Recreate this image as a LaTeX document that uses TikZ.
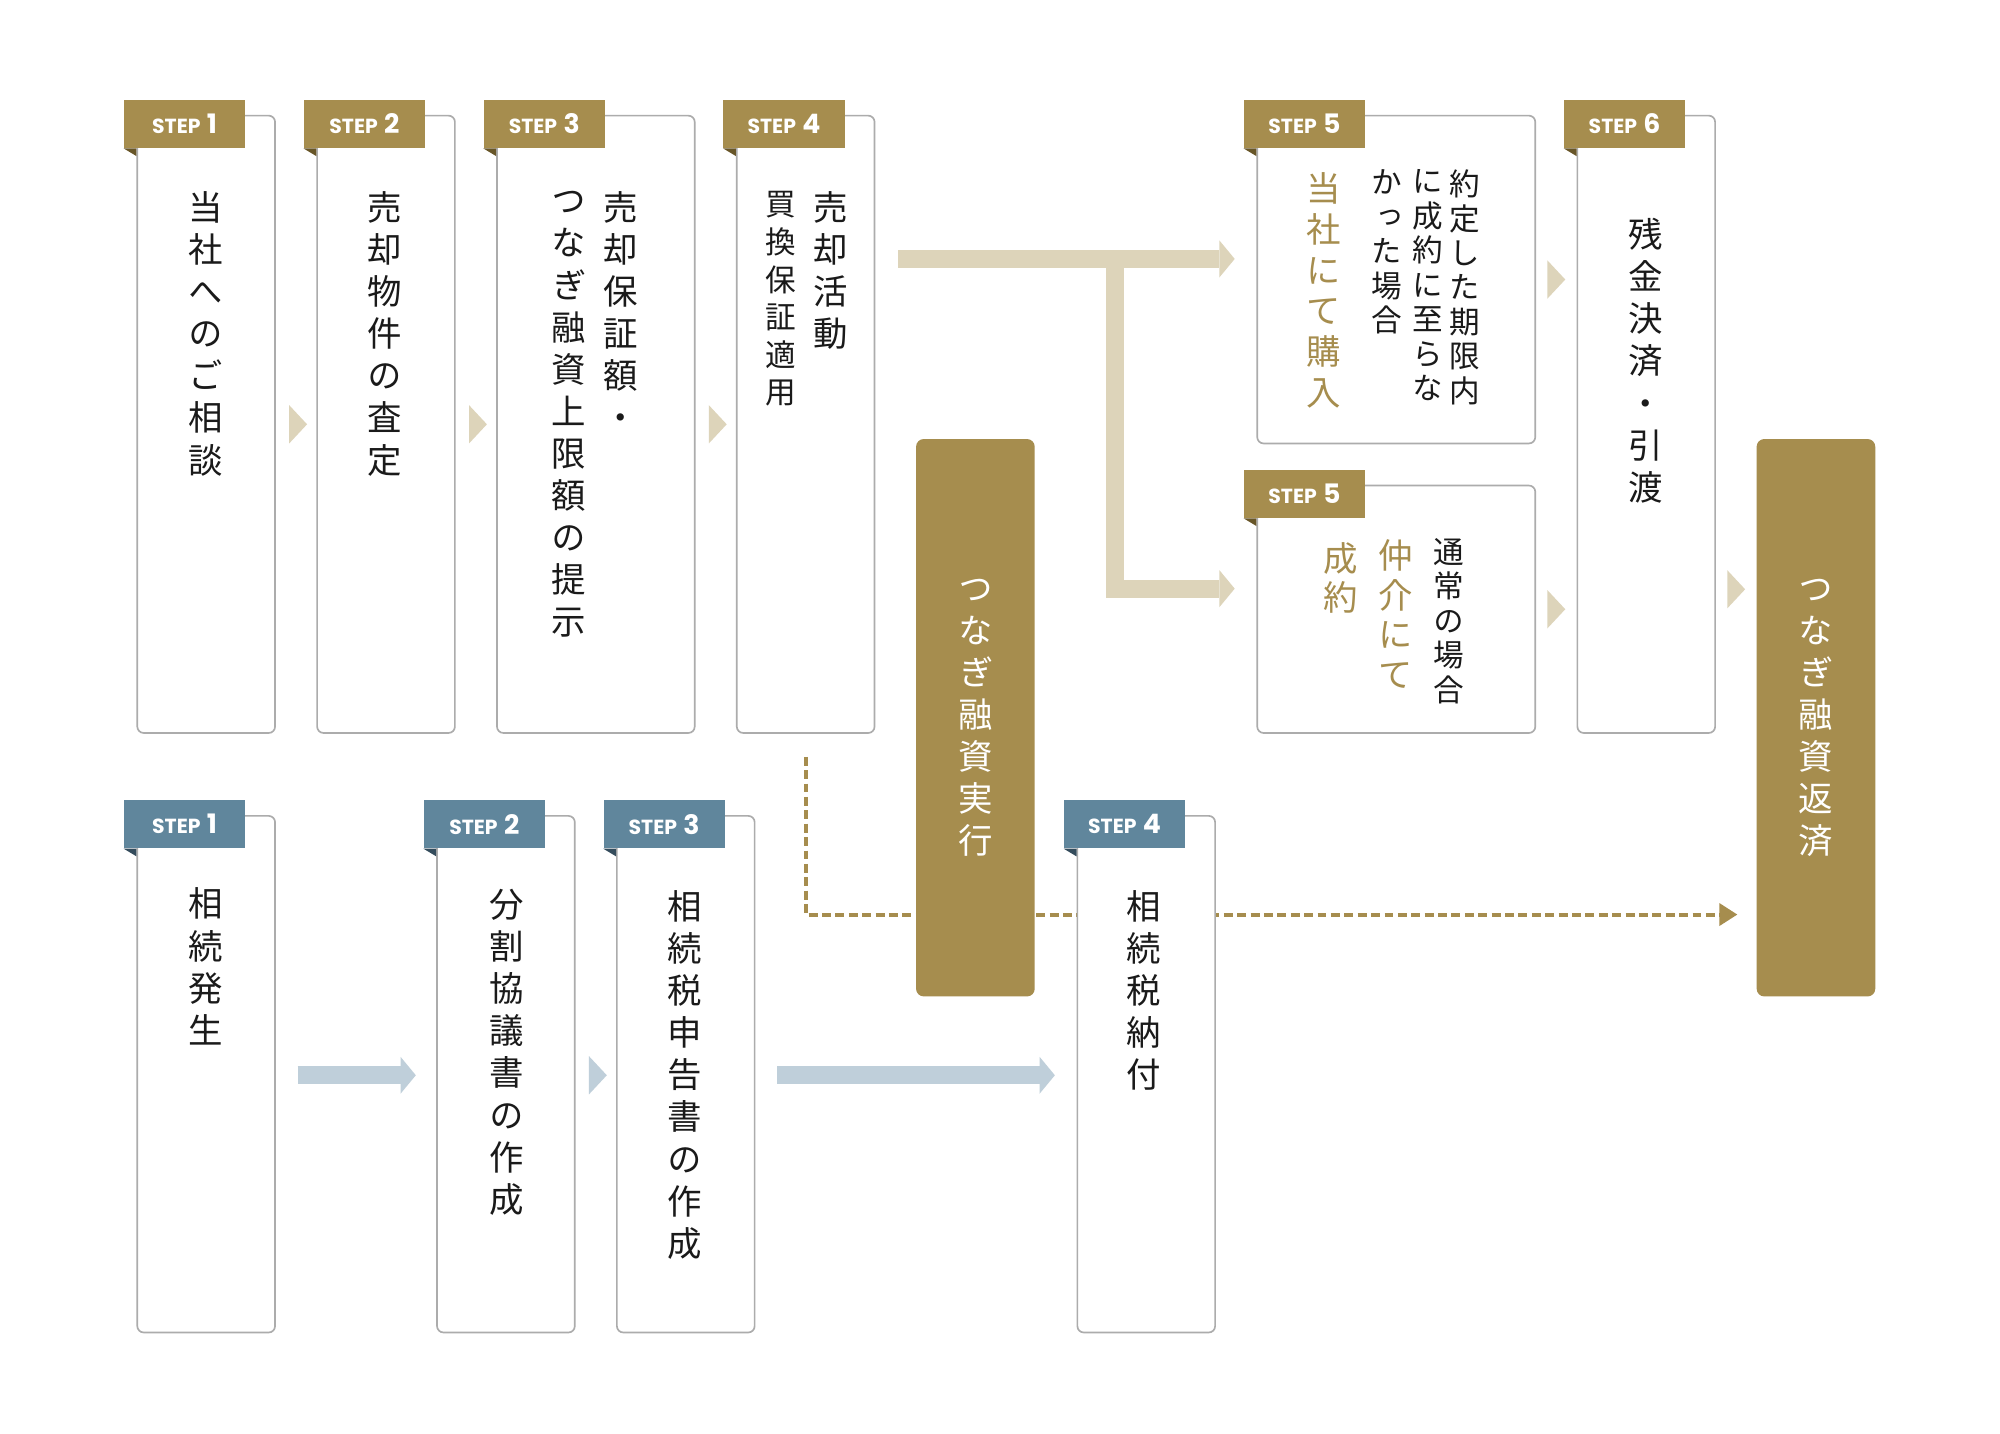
\documentclass[tikz,border=0pt]{standalone}
\usepackage{fontspec}
\newfontfamily\jpf[RawFeature=+vert]{Noto Sans CJK JP}
\newfontfamily\stepfnt{Poppins}
\usetikzlibrary{arrows.meta,calc}
\definecolor{gold}{RGB}{166,141,78}
\definecolor{golddark}{RGB}{104,86,40}
\definecolor{tan}{RGB}{221,212,186}
\definecolor{blue}{RGB}{96,134,156}
\definecolor{bluedark}{RGB}{52,76,92}
\definecolor{lightblue}{RGB}{191,207,218}
\definecolor{boxgray}{RGB}{172,172,172}
\definecolor{ink}{RGB}{26,26,26}
\pgfdeclarelayer{back}
\pgfdeclarelayer{bg}
\pgfsetlayers{back,bg,main}
\newcommand\steplbl[1]{{\stepfnt\bfseries\fontsize{16}{16}\selectfont STEP}\hspace{5pt}{\stepfnt\bfseries\fontsize{21}{21}\selectfont #1}}
\newcommand\mktab[4]{%
  \node[tabbox, fill=#4] (#2) at ([xshift=-10pt,yshift=12pt]#1.north west) {\steplbl{#3}};
  \fill[#4dark] (#2.south west) -- ([xshift=10pt]#2.south west) -- ([xshift=10pt,yshift=-6pt]#2.south west) -- cycle;}
\newcommand\chev[2]{\fill[#1] ([xshift=-7pt,yshift=15pt]#2) -- ([xshift=7pt]#2) -- ([xshift=-7pt,yshift=-15pt]#2) -- cycle;}
\tikzset{
  stepbox/.style={draw=boxgray, line width=1.3pt, fill=white, rounded corners=5pt, anchor=north west, inner sep=0pt, minimum width=108pt, minimum height=484pt},
  tabbox/.style={anchor=north west, inner sep=0pt, minimum width=95pt, minimum height=38pt, text=white},
  vt/.style={inner sep=0pt, anchor=north, align=center, text=ink, font=\jpf\fontsize{27}{33}\selectfont},
  vts/.style={vt, font=\jpf\fontsize{24}{29.5}\selectfont},
  vtn/.style={vt, font=\jpf\fontsize{24}{27}\selectfont},
  vtg/.style={vt, text=gold, font=\jpf\fontsize{27}{32}\selectfont},
  loanbox/.style={fill=gold, rounded corners=6pt, anchor=north west, inner sep=0pt, minimum width=93pt, minimum height=437pt, text=white, align=center, font=\jpf\fontsize{27}{33}\selectfont},
  tanarrow/.style={draw=tan, line width=14pt, -{Triangle[length=12pt,width=29pt,line width=0pt]}},
  bluearrow/.style={draw=lightblue, line width=14pt, -{Triangle[length=12pt,width=29pt,line width=0pt]}},
  dotarrow/.style={draw=gold, line width=3.2pt, dash pattern=on 7pt off 3.5pt, -{Triangle[length=14pt,width=18pt,line width=0pt]}},
}
\begin{document}
\begin{tikzpicture}[x=1pt,y=-1pt]
\useasboundingbox (0,0) rectangle (1568,1124);
\begin{pgfonlayer}{back}
\fill[white] (0,0) rectangle (1568,1124);
\end{pgfonlayer}
% top row boxes
\node[stepbox] (s1) at (107,90) {};
\node[stepbox] (s2) at (248,90) {};
\node[stepbox, minimum width=155pt] (s3) at (389,90) {};
\node[stepbox] (s4) at (577,90) {};
\node[stepbox, minimum width=218pt, minimum height=257pt] (s5a) at (985,90) {};
\node[stepbox, minimum width=218pt, minimum height=194pt] (s5b) at (985,380) {};
\node[stepbox] (s6) at (1236,90) {};
% bottom row boxes
\node[stepbox, minimum height=405pt] (b1) at (107,639) {};
\node[stepbox, minimum height=405pt] (b2) at (342,639) {};
\node[stepbox, minimum height=405pt] (b3) at (483,639) {};
\node[stepbox, minimum height=405pt] (b4) at (844,639) {};
% loan boxes
\node[loanbox] (exec) at (718,344) {つ\\な\\ぎ\\融\\資\\実\\行};
\node[loanbox] (repay) at (1377,344) {つ\\な\\ぎ\\融\\資\\返\\済};
% tabs
\mktab{s1}{t1}{1}{gold}
\mktab{s2}{t2}{2}{gold}
\mktab{s3}{t3}{3}{gold}
\mktab{s4}{t4}{4}{gold}
\mktab{s5a}{t5a}{5}{gold}
\mktab{s5b}{t5b}{5}{gold}
\mktab{s6}{t6}{6}{gold}
\mktab{b1}{u1}{1}{blue}
\mktab{b2}{u2}{2}{blue}
\mktab{b3}{u3}{3}{blue}
\mktab{b4}{u4}{4}{blue}
% texts top
\node[vt] (s1t) at (161.5,150) {当\\社\\へ\\の\\ご\\相\\談};
\node[vt] (s2t) at (302,150) {売\\却\\物\\件\\の\\査\\定};
\node[vt] (s3r) at (487,150) {売\\却\\保\\証\\額\\・};
\node[vt] (s3l) at (446,150) {つ\\な\\ぎ\\融\\資\\上\\限\\額\\の\\提\\示};
\node[vt] (s4r) at (651,150) {売\\却\\活\\動};
\node[vts] (s4l) at (612,150) {買\\換\\保\\証\\適\\用};
\node[vtn] (s5a1) at (1148.5,133) {約\\定\\し\\た\\期\\限\\内};
\node[vtn] (s5a2) at (1119.5,133) {に\\成\\約\\に\\至\\ら\\な};
\node[vtn] (s5a3) at (1087,133) {か\\っ\\た\\場\\合};
\node[vtg] (s5a4) at (1038,135) {当\\社\\に\\て\\購\\入};
\node[vtn] (s5b1) at (1135.5,422) {通\\常\\の\\場\\合};
\node[vtg, font=\jpf\fontsize{27}{31}\selectfont] (s5b2) at (1094,423) {仲\\介\\に\\て};
\node[vtg, font=\jpf\fontsize{27}{31}\selectfont] (s5b3) at (1051,425) {成\\約};
\node[vt] (s6t) at (1290,171) {残\\金\\決\\済\\・\\引\\渡};
% texts bottom
\node[vt] (b1t) at (161,696) {相\\続\\発\\生};
\node[vt] (b2t) at (397,697) {分\\割\\協\\議\\書\\の\\作\\成};
\node[vt] (b3t) at (537,698) {相\\続\\税\\申\\告\\書\\の\\作\\成};
\node[vt] (b4t) at (897,698) {相\\続\\税\\納\\付};
% chevrons
\path (s1.east) -- (s2.west) coordinate[pos=0.55] (c12);
\path (s2.east) -- (s3.west) coordinate[pos=0.55] (c23);
\path (s3.east) -- (s4.west) coordinate[pos=0.55] (c34);
\path (s5a.east) -- (s5a.east -| s6.west) coordinate[pos=0.5] (c5a6);
\path (s5b.east) -- (s5b.east -| s6.west) coordinate[pos=0.5] (c5b6);
\path (s6.east |- 0,462) -- (repay.west |- 0,462) coordinate[pos=0.5] (c6r);
\path (b2.east |- 0,843) -- (b3.west |- 0,843) coordinate[pos=0.55] (cb23);
\chev{tan}{c12}
\chev{tan}{c23}
\chev{tan}{c34}
\chev{tan}{c5a6}
\chev{tan}{c5b6}
\chev{tan}{c6r}
\chev{lightblue}{cb23}
% big arrows
\coordinate (fork) at (874,203);
\draw[tanarrow] ([xshift=18pt]s4.east |- fork) -- ([xshift=-17pt]s5a.west |- fork);
\draw[tanarrow] (fork) |- ([xshift=-17pt]s5b.west |- 0,461.5);
\draw[bluearrow] ([xshift=17pt]b1.east |- 0,843) -- ([xshift=-16pt]b2.west |- 0,843);
\draw[bluearrow] ([xshift=17pt]b3.east |- 0,843) -- ([xshift=-17pt]b4.west |- 0,843);
% dotted connector
\begin{pgfonlayer}{bg}
\draw[dotarrow] ([yshift=-18pt]s4.south) -- (s4.south |- 0,717) -- ([xshift=-15pt]repay.west |- 0,717);
\end{pgfonlayer}
\end{tikzpicture}
\end{document}
